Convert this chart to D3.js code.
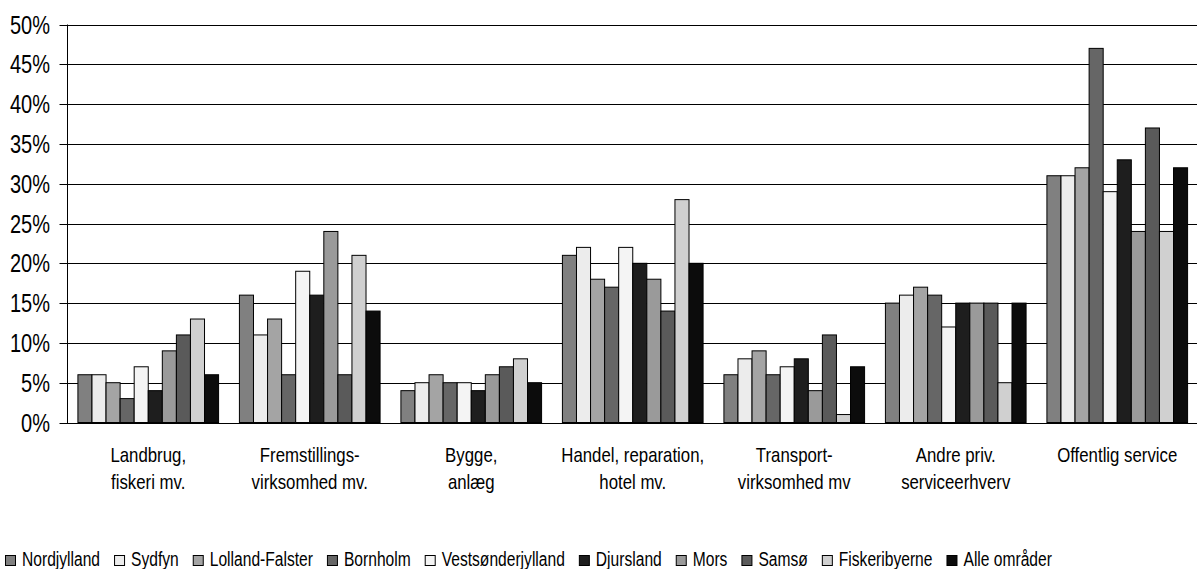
<!DOCTYPE html>
<html>
<head>
<meta charset="utf-8">
<script src="https://cdn.jsdelivr.net/npm/d3@7"></script>
<style>
  body { margin: 0; background: #fff; }
  text { font-family: "Liberation Sans", Arial, sans-serif; fill: #000; }
</style>
</head>
<body>
<script>
var categories = [
  ["Landbrug,", "fiskeri mv."],
  ["Fremstillings-", "virksomhed mv."],
  ["Bygge,", "anlæg"],
  ["Handel, reparation,", "hotel mv."],
  ["Transport-", "virksomhed mv"],
  ["Andre priv.", "serviceerhverv"],
  ["Offentlig service"]
];
var seriesNames = ["Nordjylland","Sydfyn","Lolland-Falster","Bornholm","Vestsønderjylland","Djursland","Mors","Samsø","Fiskeribyerne","Alle områder"];
var seriesColors = ["#808080","#ececec","#a4a4a4","#666666","#f4f4f4","#1e1e1e","#9a9a9a","#5a5a5a","#d0d0d0","#0c0c0c"];
// one row per category, one value (%) per series
var values = [
  [6, 6, 5, 3, 7, 4, 9, 11, 13, 6],
  [16, 11, 13, 6, 19, 16, 24, 6, 21, 14],
  [4, 5, 6, 5, 5, 4, 6, 7, 8, 5],
  [21, 22, 18, 17, 22, 20, 18, 14, 28, 20],
  [6, 8, 9, 6, 7, 8, 4, 11, 1, 7],
  [15, 16, 17, 16, 12, 15, 15, 15, 5, 15],
  [31, 31, 32, 47, 29, 33, 24, 37, 24, 32]
];
var yTicks = [0,5,10,15,20,25,30,35,40,45,50];

var squeeze = 0.8; // text in the original looks horizontally compressed
function narrow(sel){
  sel.each(function(){
    var l = this.getComputedTextLength();
    d3.select(this).attr("textLength", l*squeeze).attr("lengthAdjust","spacingAndGlyphs");
  });
}

var svg = d3.select("body").append("svg").attr("width",1197).attr("height",569);

var plotLeft = 67.5, plotRight = 1198, plotTop = 24.5, plotBottom = 422.5;

var x0 = d3.scaleBand().domain(d3.range(categories.length)).range([plotLeft,plotRight])
            .paddingInner(0.129).paddingOuter(0.0645);
var x1 = d3.scaleBand().domain(d3.range(seriesNames.length)).range([0,x0.bandwidth()]);
var y = d3.scaleLinear().domain([0,50]).range([plotBottom,plotTop]);

// gridlines + tick marks
svg.append("g").selectAll("line").data(yTicks).enter().append("line")
  .attr("x1",plotLeft-8).attr("x2",plotRight)
  .attr("y1",function(d){ return Math.round(y(d))+0.5; })
  .attr("y2",function(d){ return Math.round(y(d))+0.5; })
  .attr("stroke","#000").attr("stroke-width",1);

svg.append("g").selectAll("text").data(yTicks).enter().append("text")
  .attr("x",50).attr("y",function(d){ return y(d); })
  .attr("dy","0.36em").attr("text-anchor","end")
  .attr("font-size","25px")
  .text(function(d){ return d+"%"; })
  .call(narrow);

// bars
var groups = svg.append("g").selectAll("g").data(values).enter().append("g")
  .attr("transform",function(d,i){ return "translate("+x0(i)+",0)"; });

groups.selectAll("rect").data(function(d){ return d; }).enter().append("rect")
  .attr("x",function(d,i){ return x1(i); })
  .attr("y",function(d){ return y(d); })
  .attr("width",x1.bandwidth())
  .attr("height",function(d){ return plotBottom - y(d); })
  .attr("fill",function(d,i){ return seriesColors[i]; })
  .attr("stroke","#000").attr("stroke-width",1);

// y axis line
svg.append("line").attr("x1",plotLeft).attr("x2",plotLeft).attr("y1",plotTop).attr("y2",plotBottom+0.5)
  .attr("stroke","#000").attr("stroke-width",1);

// category labels
categories.forEach(function(lines,i){
  lines.forEach(function(t,j){
    svg.append("text")
      .attr("x",x0(i)+x0.bandwidth()/2).attr("y",462+j*27)
      .attr("text-anchor","middle").attr("font-size","21px")
      .text(t).call(narrow);
  });
});

// legend
var lx = 5;
seriesNames.forEach(function(name,i){
  svg.append("rect").attr("x",lx+0.5).attr("y",555.5).attr("width",10).attr("height",10)
    .attr("fill",seriesColors[i]).attr("stroke","#000").attr("stroke-width",1);
  var t = svg.append("text").attr("x",lx+17).attr("y",566).attr("font-size","19.5px").text(name);
  var w = t.node().getComputedTextLength()*squeeze;
  t.attr("textLength",w).attr("lengthAdjust","spacingAndGlyphs");
  lx += 17 + w + 14;
});
</script>
</body>
</html>
